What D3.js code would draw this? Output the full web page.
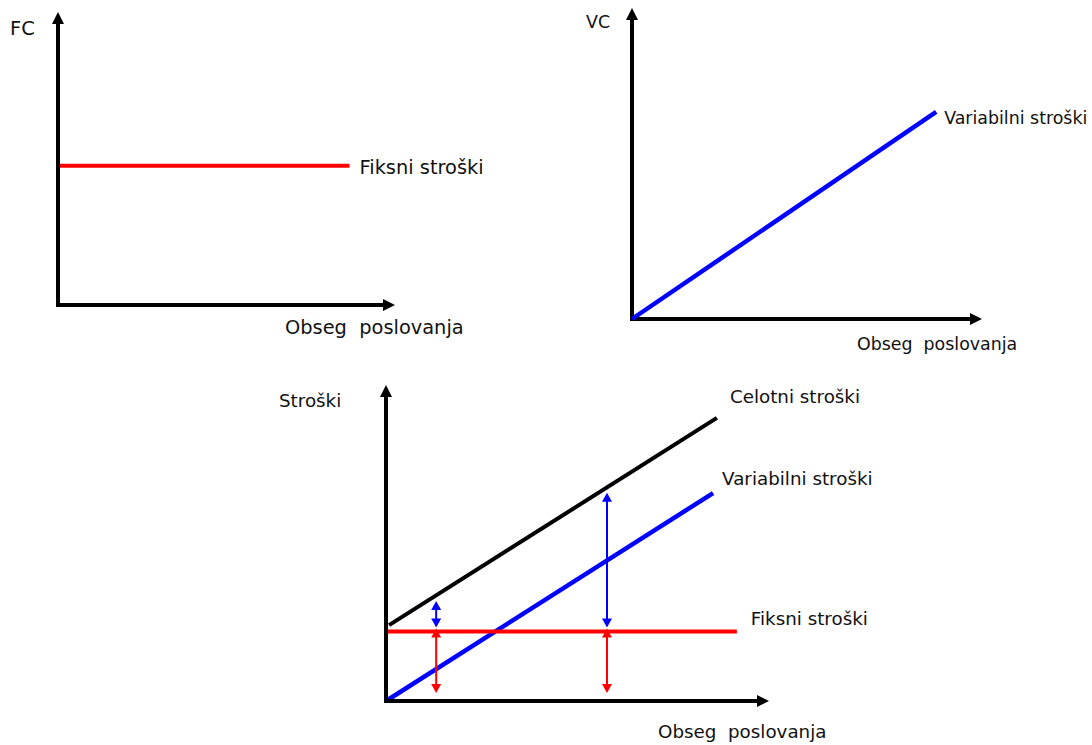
<!DOCTYPE html>
<html>
<head>
<meta charset="utf-8">
<script src="https://cdn.jsdelivr.net/npm/d3@7"></script>
<style>
  body { margin: 0; background: #fff; }
  svg text { font-family: "DejaVu Sans", Verdana, sans-serif; fill: #111; white-space: pre; }
</style>
</head>
<body>
<svg width="1092" height="745"></svg>
<script>
// 1. Data (units on a 0..10 scale for every panel)
const axisMax = 10;

// panel A - fixed costs
const fcLineA = [[0, 4.75], [8.65, 4.75]];
// panel B - variable costs
const vcLineB = [[0, 0], [8.69, 6.66]];
// panel C - all costs
const fcLineC = [[0, 2.2], [9.16, 2.2]];
const vcLineC = [[0, 0], [8.54, 6.58]];
const tcLineC = [[0.08, 2.4], [8.64, 8.96]];
const arrowQ = [1.31, 5.77];
const arrowTop = [3.2, 6.62];   // total cost read at arrowQ
const arrowBase = [2.2, 2.2];   // fixed cost level

// labels
const xTitle = "Obseg  poslovanja";
const labelsA = { y: "FC", line: "Fiksni stroški" };
const labelsB = { y: "VC", line: "Variabilni stroški" };
const labelsC = { y: "Stroški", total: "Celotni stroški", variable: "Variabilni stroški", fixed: "Fiksni stroški" };

// 2. Setup
const svg = d3.select("svg");
const RED = "#ff0000", BLUE = "#0000ff", BLACK = "#000";

function drawHead(g, x, y, ang, len, w, color) {
    const bx = x - len * Math.cos(ang), by = y - len * Math.sin(ang);
    const px = -Math.sin(ang) * w / 2, py = Math.cos(ang) * w / 2;
    g.append("path")
        .attr("d", `M${x},${y}L${bx + px},${by + py}L${bx - px},${by - py}Z`)
        .attr("fill", color);
}

function drawArrow(g, x1, y1, x2, y2, o) {
    const ang = Math.atan2(y2 - y1, x2 - x1);
    const c = Math.cos(ang), s = Math.sin(ang);
    let sx = x1, sy = y1, ex = x2, ey = y2;
    if (o.start) { sx += c * (o.len - 1); sy += s * (o.len - 1); }
    if (o.end) { ex -= c * (o.len - 1); ey -= s * (o.len - 1); }
    g.append("line")
        .attr("x1", sx).attr("y1", sy).attr("x2", ex).attr("y2", ey)
        .attr("stroke", o.color).attr("stroke-width", o.width);
    if (o.end) drawHead(g, x2, y2, ang, o.len, o.w, o.color);
    if (o.start) drawHead(g, x1, y1, ang + Math.PI, o.len, o.w, o.color);
}

function drawAxes(g, x, y) {
    const axisOpt = { color: BLACK, width: 4, len: 12, w: 12, end: true };
    drawArrow(g, x(0) - 2, y(0), x(axisMax), y(0), axisOpt);
    drawArrow(g, x(0), y(0) + 2, x(0), y(axisMax), axisOpt);
}

const line = (x, y) => d3.line().x(d => x(d[0])).y(d => y(d[1]));

function addText(g, txt, px, py, size) {
    g.append("text")
        .attr("xml:space", "preserve")
        .attr("x", px).attr("y", py)
        .style("font-size", size + "px")
        .text(txt);
}

// 3. Panel A - fixed costs
{
    const g = svg.append("g");
    const x = d3.scaleLinear().domain([0, axisMax]).range([58, 395]);
    const y = d3.scaleLinear().domain([0, axisMax]).range([305, 12]);
    const fs = 19.4;

    g.append("path").datum(fcLineA)
        .attr("d", line(x, y)).attr("stroke", RED).attr("stroke-width", 4).attr("fill", "none");
    drawAxes(g, x, y);

    const end = fcLineA[fcLineA.length - 1];
    addText(g, labelsA.line, x(end[0]) + 10, y(end[1]) + 8, fs);
    addText(g, labelsA.y, x(0) - 48, y(axisMax) + 23, fs);
    addText(g, xTitle, x(0) + 227, y(0) + 29, fs);
}

// 4. Panel B - variable costs
{
    const g = svg.append("g");
    const x = d3.scaleLinear().domain([0, axisMax]).range([632, 982]);
    const y = d3.scaleLinear().domain([0, axisMax]).range([319, 8]);
    const fs = 17.4;

    drawAxes(g, x, y);
    g.append("path").datum(vcLineB)
        .attr("d", line(x, y)).attr("stroke", BLUE).attr("stroke-width", 4.5).attr("fill", "none");

    const end = vcLineB[vcLineB.length - 1];
    addText(g, labelsB.line, x(end[0]) + 8, y(end[1]) + 12, fs);
    addText(g, labelsB.y, x(0) - 46, y(axisMax) + 20, fs);
    addText(g, xTitle, x(0) + 225, y(0) + 31, fs);
}

// 5. Panel C - total costs
{
    const g = svg.append("g");
    const x = d3.scaleLinear().domain([0, axisMax]).range([386, 769]);
    const y = d3.scaleLinear().domain([0, axisMax]).range([701, 385]);
    const fs = 18.3;

    g.append("path").datum(tcLineC)
        .attr("d", line(x, y)).attr("stroke", BLACK).attr("stroke-width", 4).attr("fill", "none");
    g.append("path").datum(vcLineC)
        .attr("d", line(x, y)).attr("stroke", BLUE).attr("stroke-width", 4.5).attr("fill", "none");
    g.append("path").datum(fcLineC)
        .attr("d", line(x, y)).attr("stroke", RED).attr("stroke-width", 4).attr("fill", "none");
    drawAxes(g, x, y);

    // distance arrows: variable part (blue) and fixed part (red)
    arrowQ.forEach((q, i) => {
        drawArrow(g, x(q), y(arrowTop[i]) + 1, x(q), y(arrowBase[i]) - 4,
            { color: BLUE, width: 2, len: 9, w: 10, start: true, end: true });
        drawArrow(g, x(q), y(arrowBase[i]) - 3, x(q), y(0) - 8,
            { color: RED, width: 2, len: 9, w: 10, start: true, end: true });
    });

    const tEnd = tcLineC[tcLineC.length - 1];
    const vEnd = vcLineC[vcLineC.length - 1];
    const fEnd = fcLineC[fcLineC.length - 1];
    addText(g, labelsC.total, x(tEnd[0]) + 13, y(tEnd[1]) - 15, fs);
    addText(g, labelsC.variable, x(vEnd[0]) + 9, y(vEnd[1]) - 8, fs);
    addText(g, labelsC.fixed, x(fEnd[0]) + 14, y(fEnd[1]) - 6.5, fs);
    addText(g, labelsC.y, x(0) - 107, y(axisMax) + 22, fs);
    addText(g, xTitle, x(0) + 272, y(0) + 37, fs);
}
</script>
</body>
</html>
